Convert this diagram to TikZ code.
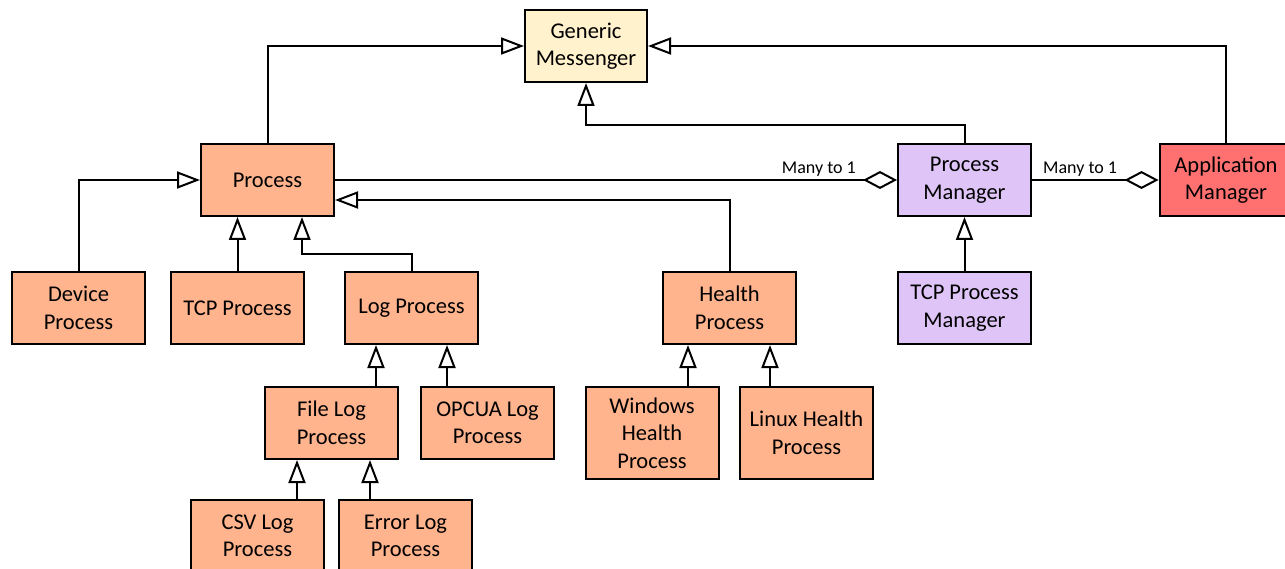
\documentclass[tikz,border=0pt]{standalone}
\usepackage{fontspec}
\setmainfont{Carlito}
\usetikzlibrary{arrows.meta,calc}
\definecolor{peach}{HTML}{FFB48E}
\definecolor{cream}{HTML}{FFF2CC}
\definecolor{lav}{HTML}{DFC5F7}
\definecolor{redbox}{HTML}{FF7171}
\begin{document}
\begin{tikzpicture}[x=1pt,y=-1pt,
  box/.style={draw=black, line width=2pt, minimum width=133pt, minimum height=72pt, inner sep=0pt, align=center, font=\fontsize{22.5}{27.5}\selectfont},
  tallbox/.style={box, minimum height=92pt},
  inh/.style={line width=2pt, -{Triangle[open, length=23pt, width=17pt, line width=2pt]}},
  agg/.style={line width=2pt, -{Diamond[open, length=34pt, width=18pt, line width=2pt]}},
  lbl/.style={inner sep=0pt, font=\fontsize{18}{21}\selectfont}]
\useasboundingbox (0,0) rectangle (1285,569);
% nodes
\node[box, fill=cream, minimum width=122pt] (gm) at (586,46) {Generic\\Messenger};
\node[box, fill=peach] (proc) at (267.5,180) {Process};
\node[box, fill=lav] (pm) at (964.5,180) {Process\\Manager};
\node[box, fill=redbox] (am) at (1226,180) {Application\\Manager};
\node[box, fill=lav] (tcppm) at (964.5,308) {TCP Process\\Manager};
\node[box, fill=peach] (dev) at (78.5,308) {Device\\Process};
\node[box, fill=peach] (tcp) at (237.5,308) {TCP Process};
\node[box, fill=peach] (log) at (411.5,308) {Log Process};
\node[box, fill=peach] (hp) at (729.5,308) {Health\\Process};
\node[box, fill=peach] (flog) at (331.5,423) {File Log\\Process};
\node[box, fill=peach] (opc) at (487.5,423) {OPCUA Log\\Process};
\node[tallbox, fill=peach] (win) at (652,433) {Windows\\Health\\Process};
\node[tallbox, fill=peach] (lin) at (806.5,433) {Linux Health\\Process};
\node[box, fill=peach] (csv) at (257.5,536) {CSV Log\\Process};
\node[box, fill=peach] (err) at (405.5,536) {Error Log\\Process};
% generalization to Generic Messenger
\draw[inh] (proc.north) |- (gm.west);
\draw[inh] (am.north) |- (gm.east);
\coordinate (pmup) at ($(pm.north)+(0,-18)$);
\draw[inh] (pm.north) -- (pmup) -| (gm.south);
% to Process
\draw[inh] (dev.north) |- (proc.west);
\draw[inh] (tcp.north) -- (tcp.north |- proc.south);
\coordinate (logup) at ($(log.north)+(0,-17)$);
\coordinate (procs2) at ($(proc.south)+(34.5,0)$);
\draw[inh] (log.north) -- (logup) -| (procs2);
\coordinate (proce2) at ($(proc.east)+(0,20)$);
\draw[inh] (hp.north) |- (proce2);
% aggregation
\draw[agg] (proc.east) -- (pm.west);
\draw[agg] (pm.east) -- (am.west);
\node[lbl, anchor=south east] (l1) at ($(pm.west)+(-41,-3)$) {Many to 1};
\node[lbl, anchor=south west] (l2) at ($(pm.east)+(11,-3)$) {Many to 1};
% others
\draw[inh] (tcppm.north) -- (pm.south);
\coordinate (fl1) at ($(log.south)+(-35.5,0)$);
\coordinate (fl2) at ($(log.south)+(35.5,0)$);
\draw[inh] (flog.north -| fl1) -- (fl1);
\draw[inh] (opc.north -| fl2) -- (fl2);
\coordinate (c1) at ($(flog.south)+(-34.5,0)$);
\coordinate (c2) at ($(flog.south)+(38.5,0)$);
\draw[inh] (csv.north -| c1) -- (c1);
\draw[inh] (err.north -| c2) -- (c2);
\coordinate (h1) at ($(hp.south)+(-41.5,0)$);
\coordinate (h2) at ($(hp.south)+(40.5,0)$);
\draw[inh] (win.north -| h1) -- (h1);
\draw[inh] (lin.north -| h2) -- (h2);
\end{tikzpicture}
\end{document}
